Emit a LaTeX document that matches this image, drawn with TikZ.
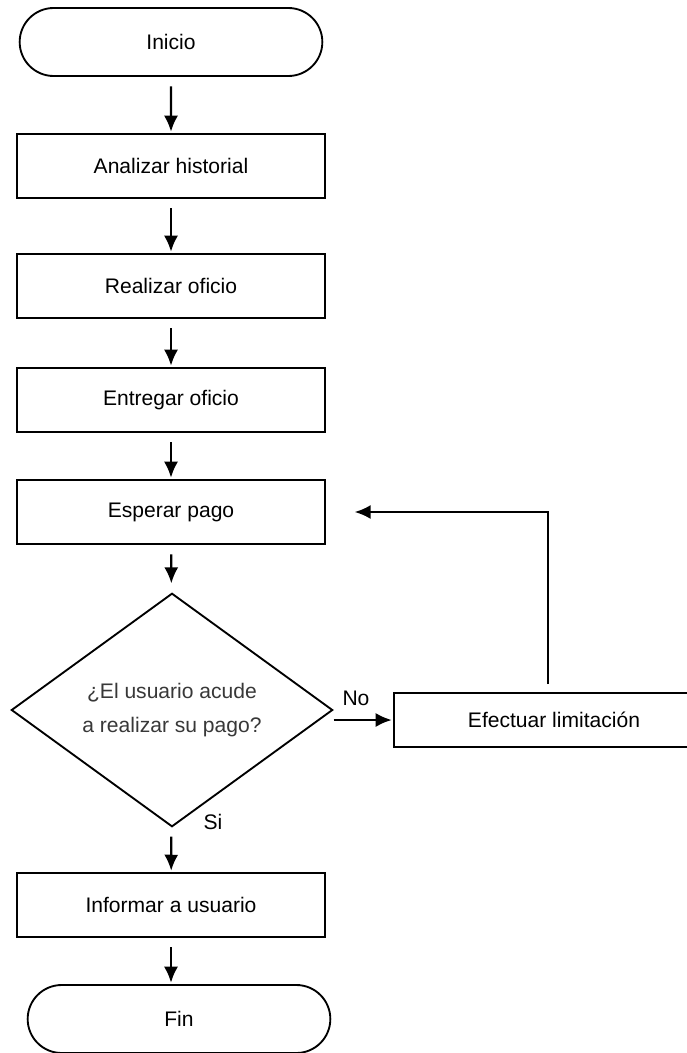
\documentclass[tikz,border=0pt]{standalone}
\usepackage{fontspec}
\setmainfont{Liberation Sans}
\usepackage{xcolor}
\usepackage{tikz}
\usetikzlibrary{arrows.meta,shapes.geometric,shapes.misc}
\definecolor{qgray}{HTML}{383838}
\tikzset{
  % plain white process box, thin black frame
  proc/.style  = {rectangle, draw=black, line width=1.4pt, fill=white,
                  minimum width=231pt, minimum height=48pt, inner sep=3pt,
                  align=center, font=\fontsize{15.8}{19}\selectfont},
  term/.style  = {rounded rectangle, draw=black, line width=1.4pt, fill=white,
                  minimum width=233pt, minimum height=51pt, inner sep=3pt,
                  font=\fontsize{15.8}{19}\selectfont},
  decis/.style = {diamond, draw=black, line width=1.4pt, fill=white, inner sep=0pt,
                  minimum width=241pt, minimum height=158pt, align=center,
                  text=qgray, font=\fontsize{15.8}{26}\selectfont},
  arr/.style   = {-{Latex[length=12pt,width=10.5pt]}, line width=1.7pt,
                  shorten <=7pt, shorten >=1pt},
  lbl/.style   = {font=\fontsize{15.8}{19}\selectfont, inner sep=0pt},
}
\begin{document}
\begin{tikzpicture}[x=0.75pt,y=-0.75pt]
\useasboundingbox (0,0) rectangle (686,1053);
\node[term] (ini) at (171,42) {Inicio};
\node[proc] (ana) at (171,166) {Analizar historial};
\node[proc] (rea) at (171,286) {Realizar oficio};
\node[proc] (ent) at (171,400) {Entregar oficio};
\node[proc] (esp) at (171,512) {Esperar pago};
\node[decis] (dec) at (172,710) {¿El usuario acude\\a realizar su pago?};
\node[proc, minimum width=240pt, minimum height=41pt] (lim) at (554,720) {Efectuar limitación};
\node[proc] (inf) at (171,905) {Informar a usuario};
\node[term] (fin) at (179,1019) {Fin};
\node[lbl] (no) at (356,698) {No};
\node[lbl] (si) at (213,822) {Si};
% main flow
\draw[arr] (ini) -- (ana);
\draw[arr] (ana) -- (rea);
\draw[arr] (rea) -- (ent);
\draw[arr] (ent) -- (esp);
\draw[arr, shorten >=7pt] (esp) -- (dec);
\draw[arr] (dec) -- (inf);
\draw[arr] (inf) -- (inf.south |- fin.north);
% loop back
\draw[arr, shorten <=0pt] (dec.east |- lim.west) -- (lim.west);
\coordinate (ret) at (548,684);
\draw[arr, shorten <=0pt, shorten >=21.5pt] (ret) |- (esp.east);
\end{tikzpicture}
\end{document}
